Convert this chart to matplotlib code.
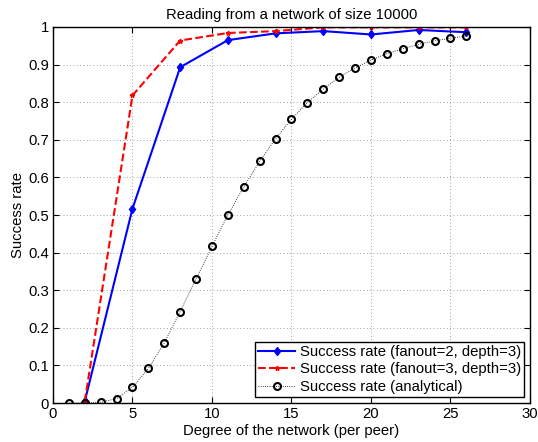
import matplotlib
matplotlib.use("Agg")
import matplotlib.pyplot as plt

plt.rcParams['font.family'] = ['Liberation Sans', 'DejaVu Sans']

# Simulation: fanout=2 and fanout=3, depth=3
deg_sim = [2, 5, 8, 11, 14, 17, 20, 23, 26]
rate_f2 = [0.005, 0.517, 0.893, 0.965, 0.983, 0.989, 0.980, 0.992, 0.986]
rate_f3 = [0.005, 0.818, 0.964, 0.984, 0.989, 0.999, 0.999, 0.999, 0.999]

# Analytical curve
deg_ana = list(range(1, 27))
rate_ana = [0.0, 0.0, 0.002, 0.012, 0.042, 0.092, 0.160, 0.243, 0.330, 0.417,
            0.500, 0.575, 0.643, 0.703, 0.755, 0.799, 0.835, 0.866, 0.891, 0.912,
            0.929, 0.942, 0.954, 0.963, 0.970, 0.976]

fs = 10.7
fig = plt.figure(figsize=(5.38, 4.42), dpi=100)
ax = fig.add_axes([0.0985, 0.088, 0.8866, 0.851])

ax.plot(deg_sim, rate_f2, color="blue", linestyle="-", linewidth=1.5,
        marker="d", markersize=4.5, label="Success rate (fanout=2, depth=3)")
ax.plot(deg_sim, rate_f3, color="red", linestyle="--", linewidth=1.5,
        marker="*", markersize=3.5, label="Success rate (fanout=3, depth=3)")
ax.plot(deg_ana, rate_ana, color="black", linestyle=":", linewidth=0.6,
        marker="o", markersize=5, markerfacecolor="none", markeredgewidth=1.5,
        label="Success rate (analytical)")

ax.set_xlim(0, 30)
ax.set_ylim(0, 1)
ax.set_xticks(range(0, 31, 5))
ax.set_yticks([i / 10 for i in range(11)])
ax.set_yticklabels(["0", "0.1", "0.2", "0.3", "0.4", "0.5", "0.6", "0.7", "0.8", "0.9", "1"])
ax.tick_params(direction="in", top=True, right=True, labelsize=fs, length=4, pad=3)
ax.grid(True, linestyle=(0, (1, 3)), color="gray", linewidth=0.6)
for s in ax.spines.values():
    s.set_linewidth(1.0)

ax.set_title("Reading from a network of size 10000", fontsize=fs, pad=6)
ax.set_xlabel("Degree of the network (per peer)", fontsize=fs, labelpad=2)
ax.set_ylabel("Success rate", fontsize=fs, labelpad=2)

leg = ax.legend(loc="lower right", fontsize=fs, fancybox=False, framealpha=1,
                edgecolor="black", borderaxespad=0.4, handlelength=2.5,
                borderpad=0.2, labelspacing=0.25, handletextpad=0.3)
leg.get_frame().set_linewidth(1.0)

fig.savefig("out.png", dpi=100)
